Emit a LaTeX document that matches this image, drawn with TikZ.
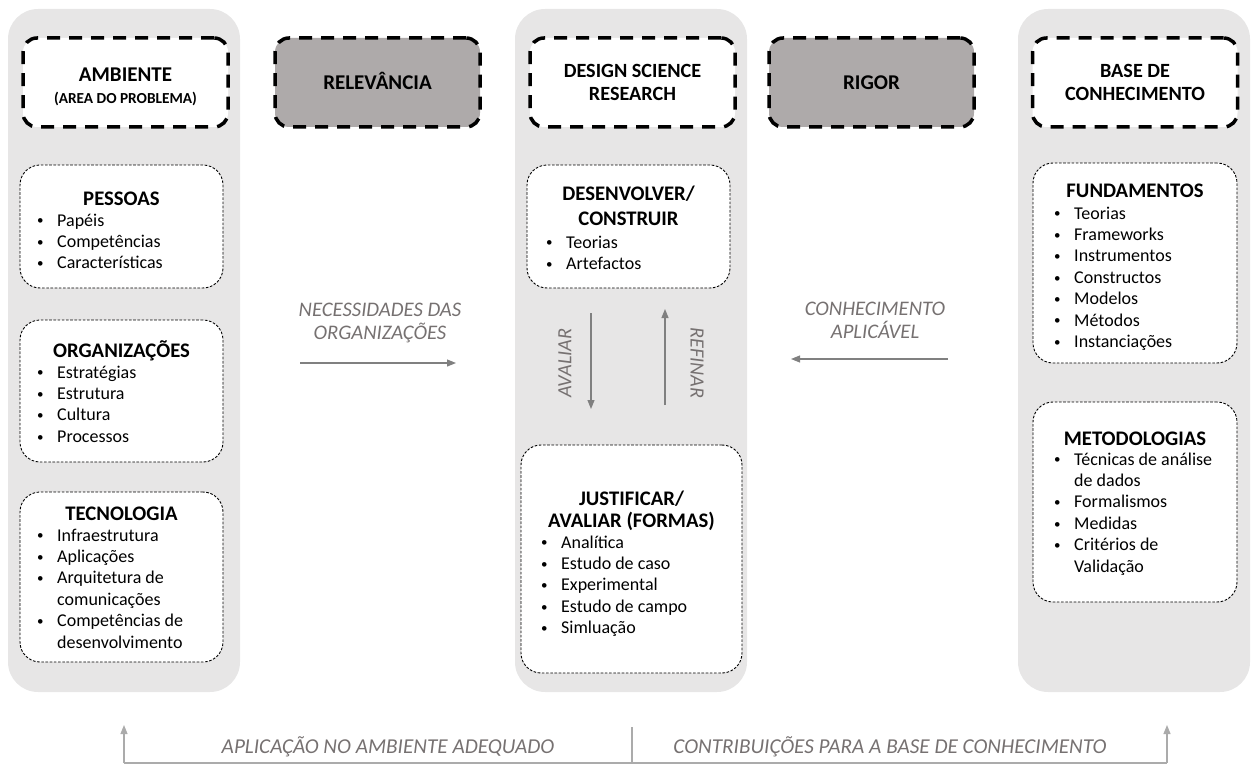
\documentclass[tikz,border=0pt]{standalone}
\usepackage{fontspec}
\setmainfont{Carlito}
\usetikzlibrary{arrows.meta}

\definecolor{colbg}{HTML}{E7E6E6}
\definecolor{hdrgray}{HTML}{AEAAAA}
\definecolor{lblgray}{HTML}{767171}
\definecolor{arrgray}{HTML}{808080}
\definecolor{lingray}{HTML}{ABABAB}

% bullet list helpers
\newlength{\bulw}
\setlength{\bulw}{20pt}
\newcommand{\bit}[1]{\makebox[\bulw][l]{\hspace*{0pt}\raisebox{1.2pt}{\fontsize{13}{13}\selectfont\textbullet}}#1}
\newcommand{\bcont}[1]{\hspace*{\bulw}#1}

\tikzset{
  column/.style={fill=colbg, draw=none, rounded corners=30pt, minimum width=232pt, minimum height=683pt, inner sep=0pt},
  hdrbox/.style={draw=black, line width=3.5pt, dash pattern=on 13pt off 9pt, rounded corners=14pt,
                 minimum width=205pt, minimum height=89pt, inner sep=0pt},
  hdrtxt/.style={font=\fontsize{21}{23}\selectfont\bfseries, anchor=base, inner sep=0pt},
  hdrtwo/.style={font=\fontsize{20.2}{23}\selectfont\bfseries, anchor=base, inner sep=0pt},
  subtxt/.style={font=\fontsize{15.3}{18}\selectfont\bfseries, anchor=base, inner sep=0pt},
  listbox/.style={draw=black, fill=white, line width=0.9pt, dash pattern=on 2.6pt off 1.6pt,
                  rounded corners=20pt, inner sep=0pt},
  ttl/.style={font=\fontsize{20.7}{23}\selectfont\bfseries, anchor=base, inner sep=0pt},
  % multi-line nodes: the base anchor sits on the last line
  lst/.style={font=\fontsize{18}{21.4}\selectfont, align=left, anchor=base west, inner sep=0pt},
  flowlbl/.style={font=\fontsize{20.7}{23}\selectfont\itshape, text=lblgray, align=center, inner sep=0pt},
  rotlbl/.style={font=\fontsize{20.2}{23}\selectfont\itshape, text=lblgray, inner sep=0pt},
  botlbl/.style={font=\fontsize{21.2}{24}\selectfont\itshape, text=lblgray, inner sep=0pt},
  flowarr/.style={draw=arrgray, line width=1.1pt, -{Triangle[length=9pt,width=7pt]}},
  botarr/.style={draw=lingray, line width=1.1pt, -{Triangle[length=9pt,width=7pt]}},
  botline/.style={draw=lingray, line width=1.1pt}
}

\begin{document}
\begin{tikzpicture}[x=1pt, y=-1pt]
\useasboundingbox (0,0) rectangle (1255,765);

% three grey columns
\node[column] (colAmb) at (124,350.5) {};
\node[column] (colDsr) at (631,350.5) {};
\node[column] (colBase) at (1134,350.5) {};

% header boxes
\node[hdrbox, fill=white] (hAmb) at (125.5,82.5) {};
\node[hdrbox, fill=hdrgray] (hRel) at (377.5,82.5) {};
\node[hdrbox, fill=white] (hDsr) at (632.5,82.5) {};
\node[hdrbox, fill=hdrgray] (hRig) at (871.5,82.5) {};
\node[hdrbox, fill=white] (hBase) at (1135,82.5) {};

\node[hdrtxt] (tAmb1) at (125.5,82) {AMBIENTE};
\node[subtxt] (tAmb2) at (125.5,104) {(AREA DO PROBLEMA)};
\node[hdrtxt] (tRel) at (377.5,90) {RELEVÂNCIA};
\node[hdrtwo] (tDsr1) at (632.5,78) {DESIGN SCIENCE};
\node[hdrtwo] (tDsr2) at (632.5,101) {RESEARCH};
\node[hdrtxt] (tRig) at (871.5,90) {RIGOR};
\node[hdrtwo] (tBase1) at (1135,78) {BASE DE};
\node[hdrtwo] (tBase2) at (1135,101) {CONHECIMENTO};

% environment column
\node[listbox, minimum width=203pt, minimum height=123pt] (bPes) at (121.5,226.5) {};
\node[ttl] (tPes) at (121.5,205) {PESSOAS};
\node[lst] (lPes) at (37,268.8) {\bit{Papéis}\\ \bit{Competências}\\ \bit{Características}};

\node[listbox, minimum width=203pt, minimum height=142pt] (bOrg) at (121.5,391) {};
\node[ttl] (tOrg) at (121.5,357) {ORGANIZAÇÕES};
\node[lst] (lOrg) at (37,442.2) {\bit{Estratégias}\\ \bit{Estrutura}\\ \bit{Cultura}\\ \bit{Processos}};

\node[listbox, minimum width=203pt, minimum height=170pt] (bTec) at (121.5,577) {};
\node[ttl] (tTec) at (121.5,520) {TECNOLOGIA};
\node[lst] (lTec) at (37,648) {\bit{Infraestrutura}\\ \bit{Aplicações}\\ \bit{Arquitetura de}\\
  \bcont{comunicações}\\ \bit{Competências de}\\ \bcont{desenvolvimento}};

% design science research column
\node[listbox, minimum width=203pt, minimum height=123pt] (bDes) at (628.5,226.5) {};
\node[ttl, align=center, font=\fontsize{20.7}{25}\selectfont\bfseries] (tDes) at (628.5,225) {DESENVOLVER/\\CONSTRUIR};
\node[lst] (lDes) at (546,269.4) {\bit{Teorias}\\ \bit{Artefactos}};

\node[listbox, minimum width=221pt, minimum height=228pt] (bJus) at (631.5,559) {};
\node[ttl, align=center, font=\fontsize{20.7}{22}\selectfont\bfseries] (tJus) at (631.5,527) {JUSTIFICAR/\\AVALIAR (FORMAS)};
\node[lst] (lJus) at (541,633.6) {\bit{Analítica}\\ \bit{Estudo de caso}\\ \bit{Experimental}\\
  \bit{Estudo de campo}\\ \bit{Simluação}};

% knowledge base column
\node[listbox, minimum width=204pt, minimum height=200pt] (bFun) at (1135,263) {};
\node[ttl] (tFun) at (1135,197) {FUNDAMENTOS};
\node[lst] (lFun) at (1054,347.4) {\bit{Teorias}\\ \bit{Frameworks}\\ \bit{Instrumentos}\\ \bit{Constructos}\\
  \bit{Modelos}\\ \bit{Métodos}\\ \bit{Instanciações}};

\node[listbox, minimum width=204pt, minimum height=200pt] (bMet) at (1135,502) {};
\node[ttl] (tMet) at (1135,445) {METODOLOGIAS};
\node[lst] (lMet) at (1054,572) {\bit{Técnicas de análise}\\ \bcont{de dados}\\ \bit{Formalismos}\\ \bit{Medidas}\\
  \bit{Critérios de}\\ \bcont{Validação}};

% relevance and rigor flows
\node[flowlbl] (lNec) at (380,323) {NECESSIDADES DAS\\ORGANIZAÇÕES};
\coordinate (necS) at (300,363);
\coordinate (necE) at (456,363);
\draw[flowarr] (necS) -- (necE);

\node[flowlbl] (lCon) at (875,320) {CONHECIMENTO\\APLICÁVEL};
\coordinate (conS) at (948,359);
\coordinate (conE) at (791,359);
\draw[flowarr] (conS) -- (conE);

% build / evaluate loop
\coordinate (avS) at (591,313);
\coordinate (avE) at (591,409);
\draw[flowarr] (avS) -- (avE);
\node[rotlbl, rotate=90] (lAva) at (565,363) {AVALIAR};

\coordinate (reS) at (665,405);
\coordinate (reE) at (665,309);
\draw[flowarr] (reS) -- (reE);
\node[rotlbl, rotate=-90] (lRef) at (697,363) {REFINAR};

% feedback line at the bottom
\coordinate (botL) at (124,763);
\coordinate (botR) at (1167,763);
\coordinate (botM) at (632,763);
\coordinate (sepTop) at (632,727);
\coordinate (tipL) at (124,725);
\coordinate (tipR) at (1167,725);
\draw[botline] (botL) -- (botR);
\draw[botline] (botM) -- (sepTop);
\draw[botarr] (botL) -- (tipL);
\draw[botarr] (botR) -- (tipR);
\node[botlbl] (lApl) at (388,747) {APLICAÇÃO NO AMBIENTE ADEQUADO};
\node[botlbl] (lCtb) at (890,747) {CONTRIBUIÇÕES PARA A BASE DE CONHECIMENTO};
\end{tikzpicture}
\end{document}
